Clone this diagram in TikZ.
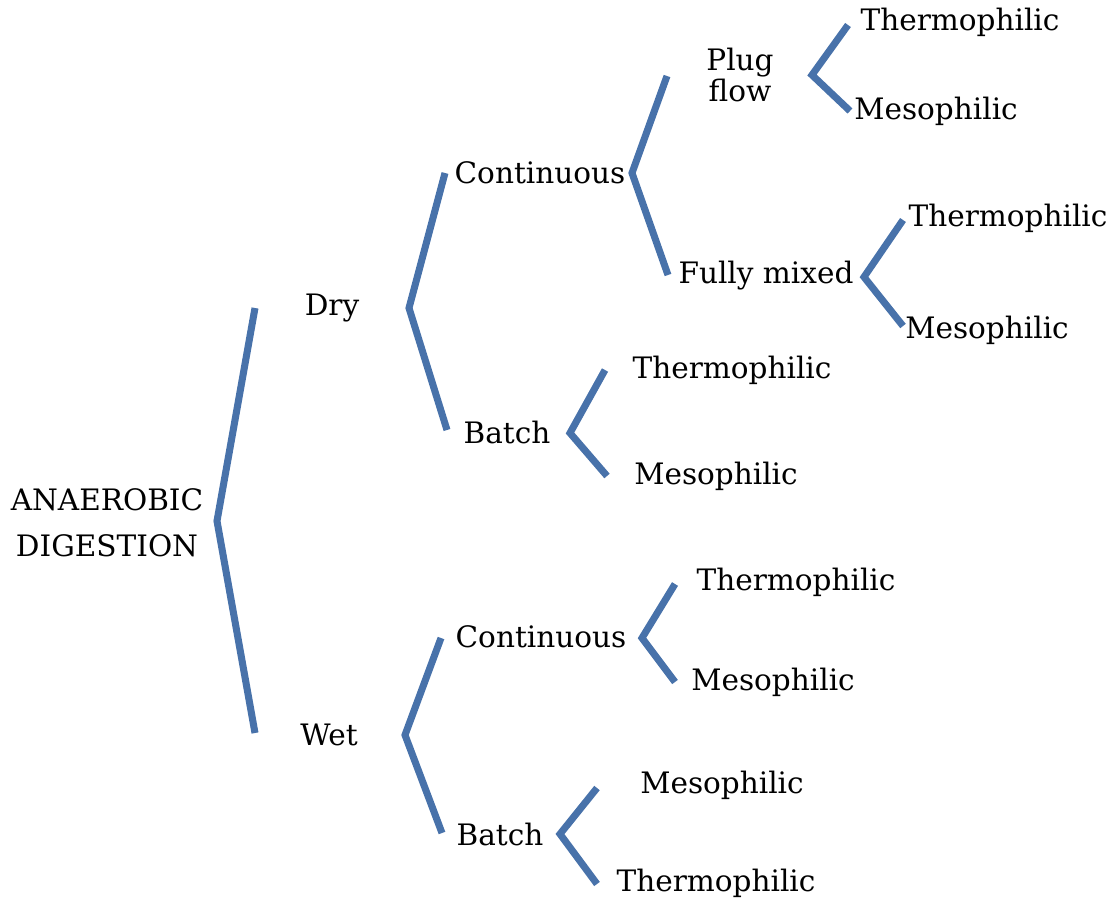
\documentclass[tikz,border=0pt]{standalone}
\usepackage{fontspec}
\setmainfont{DejaVu Serif}
\usetikzlibrary{positioning}
\definecolor{brkblue}{RGB}{72,114,170}

\begin{document}
\begin{tikzpicture}[x=0.025cm, y=-0.025cm,
    lbl/.style={font=\fontsize{21}{25}\selectfont, inner sep=0pt, align=center},
    brk/.style={draw=brkblue, line width=5pt, line join=miter}
]
\useasboundingbox (0,0) rectangle (1119,902);

% labels
\node[lbl, font=\fontsize{21}{33}\selectfont] (root) at (107,523) {ANAEROBIC\\DIGESTION};
\node[lbl] (dry) at (332,308) {Dry};
\node[lbl] (wet) at (329,735) {Wet};
\node[lbl] (dcont) at (540,173) {Continuous};
\node[lbl] (dbatch) at (507,432) {Batch};
\node[lbl] (wcont) at (541,637) {Continuous};
\node[lbl] (wbatch) at (500,834) {Batch};
\node[lbl, font=\fontsize{21}{22}\selectfont] (plug) at (740,75) {Plug\\flow};
\node[lbl] (fmix) at (766,276) {Fully mixed};
\node[lbl] (plug-t) at (960,22) {Thermophilic};
\node[lbl] (plug-m) at (936,111) {Mesophilic};
\node[lbl] (fmix-t) at (1008,218) {Thermophilic};
\node[lbl] (fmix-m) at (987,330) {Mesophilic};
\node[lbl] (dbatch-t) at (732,370) {Thermophilic};
\node[lbl] (dbatch-m) at (716,476) {Mesophilic};
\node[lbl] (wcont-t) at (796,582) {Thermophilic};
\node[lbl] (wcont-m) at (773,682) {Mesophilic};
\node[lbl] (wbatch-m) at (722,785) {Mesophilic};
\node[lbl] (wbatch-t) at (716,883) {Thermophilic};

% bracket corners
\coordinate (root-a) at (255,308);
\coordinate (root-v) at (217,521);
\coordinate (root-b) at (255,733);
\coordinate (dry-a) at (445,173);
\coordinate (dry-v) at (409,308);
\coordinate (dry-b) at (447,430);
\coordinate (dcont-a) at (667,76);
\coordinate (dcont-v) at (632,173);
\coordinate (dcont-b) at (668,275);
\coordinate (plug-a) at (848,25);
\coordinate (plug-v) at (812,75);
\coordinate (plug-b) at (850,111);
\coordinate (fmix-a) at (903,220);
\coordinate (fmix-v) at (864,277);
\coordinate (fmix-b) at (903,326);
\coordinate (dbatch-a) at (605,370);
\coordinate (dbatch-v) at (570,433);
\coordinate (dbatch-b) at (607,476);
\coordinate (wet-a) at (441,638);
\coordinate (wet-v) at (405,735);
\coordinate (wet-b) at (442,833);
\coordinate (wcont-a) at (675,584);
\coordinate (wcont-v) at (642,638);
\coordinate (wcont-b) at (675,682);
\coordinate (wbatch-a) at (597,788);
\coordinate (wbatch-v) at (560,834);
\coordinate (wbatch-b) at (597,884);

% brackets
\foreach \b in {root,dry,dcont,plug,fmix,dbatch,wet,wcont,wbatch}
    \draw[brk] (\b-a) -- (\b-v) -- (\b-b);
\end{tikzpicture}
\end{document}
